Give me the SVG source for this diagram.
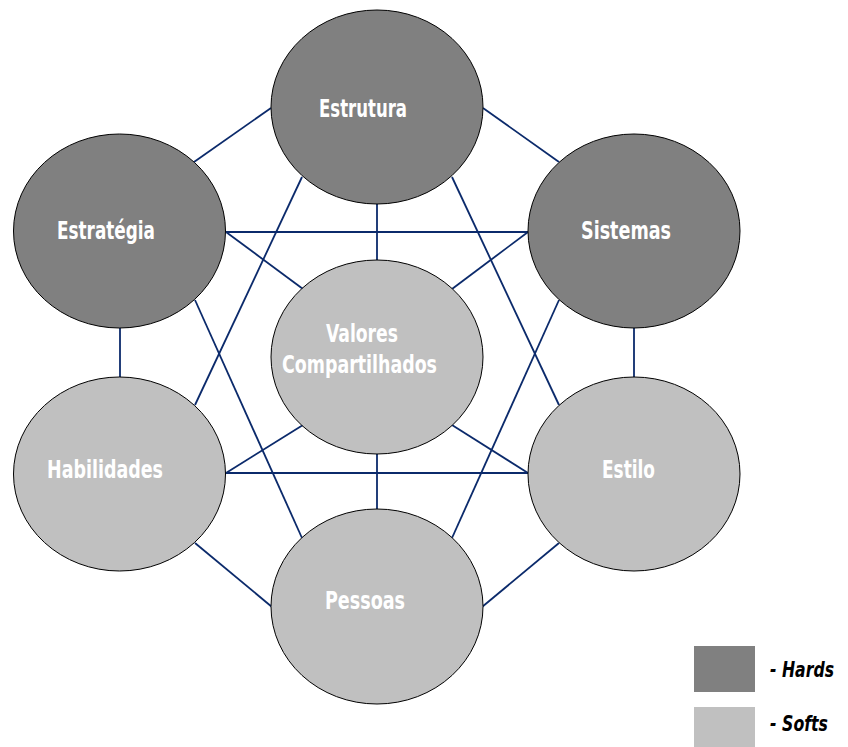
<svg xmlns="http://www.w3.org/2000/svg" width="848" height="747" viewBox="0 0 848 747">
<style>
.hard{fill:#808080;stroke:#000;stroke-width:1}
.soft{fill:#c0c0c0;stroke:#000;stroke-width:1}
.lbl{fill:#fff;font-family:"Liberation Sans Narrow","DejaVu Sans Condensed","Liberation Sans",sans-serif;font-weight:bold;font-size:25px}
.leg{fill:#000;font-family:"Liberation Sans Narrow","DejaVu Sans Condensed","Liberation Sans",sans-serif;font-weight:bold;font-style:italic;font-size:21px}
#connectors line{stroke:#0b2a6b;stroke-width:1.8}
</style>
<rect width="848" height="747" fill="#fff"/>
<g id="connectors">
<line x1="271" y1="108" x2="194" y2="162"/>
<line x1="483" y1="108" x2="559" y2="162"/>
<line x1="120" y1="328" x2="120" y2="377"/>
<line x1="634" y1="328" x2="634" y2="377"/>
<line x1="195" y1="543" x2="272" y2="607"/>
<line x1="482" y1="607" x2="559" y2="543"/>
<line x1="377" y1="204" x2="377" y2="260"/>
<line x1="377" y1="454" x2="377" y2="509"/>
<line x1="226" y1="232" x2="528" y2="232"/>
<line x1="226" y1="473" x2="528" y2="473"/>
<line x1="226" y1="232" x2="303" y2="289"/>
<line x1="528" y1="232" x2="452" y2="289"/>
<line x1="226" y1="473" x2="303" y2="425"/>
<line x1="528" y1="473" x2="452" y2="425"/>
<line x1="302" y1="177" x2="195" y2="405"/>
<line x1="452" y1="177" x2="559" y2="405"/>
<line x1="195" y1="300" x2="302" y2="538"/>
<line x1="559" y1="300" x2="452" y2="538"/>
</g>
<g id="estrutura">
<ellipse class="hard" cx="377" cy="107" rx="106" ry="97"/>
<text class="lbl" x="319" y="117" textLength="88" lengthAdjust="spacingAndGlyphs">Estrutura</text>
</g>
<g id="estrategia">
<ellipse class="hard" cx="119.5" cy="231" rx="106" ry="97"/>
<text class="lbl" x="57" y="239" textLength="98" lengthAdjust="spacingAndGlyphs">Estratégia</text>
</g>
<g id="sistemas">
<ellipse class="hard" cx="634" cy="231" rx="106" ry="97"/>
<text class="lbl" x="581" y="239" textLength="90" lengthAdjust="spacingAndGlyphs">Sistemas</text>
</g>
<g id="valores">
<ellipse class="soft" cx="377" cy="357" rx="106" ry="97"/>
<text class="lbl" x="326" y="342" textLength="72" lengthAdjust="spacingAndGlyphs">Valores</text>
<text class="lbl" x="282" y="373" textLength="155" lengthAdjust="spacingAndGlyphs">Compartilhados</text>
</g>
<g id="habilidades">
<ellipse class="soft" cx="119.5" cy="474" rx="106" ry="97"/>
<text class="lbl" x="47" y="478" textLength="116" lengthAdjust="spacingAndGlyphs">Habilidades</text>
</g>
<g id="estilo">
<ellipse class="soft" cx="634" cy="474" rx="106" ry="97"/>
<text class="lbl" x="602" y="478" textLength="53" lengthAdjust="spacingAndGlyphs">Estilo</text>
</g>
<g id="pessoas">
<ellipse class="soft" cx="377" cy="606.5" rx="106" ry="97.5"/>
<text class="lbl" x="325" y="609" textLength="80" lengthAdjust="spacingAndGlyphs">Pessoas</text>
</g>
<g id="legend">
<rect x="694" y="646" width="61" height="46" fill="#808080"/>
<rect x="694" y="707" width="61" height="40" fill="#c0c0c0"/>
<text class="leg" x="770" y="677" textLength="64" lengthAdjust="spacingAndGlyphs">- Hards</text>
<text class="leg" x="770" y="731" textLength="58" lengthAdjust="spacingAndGlyphs">- Softs</text>
</g>
</svg>
